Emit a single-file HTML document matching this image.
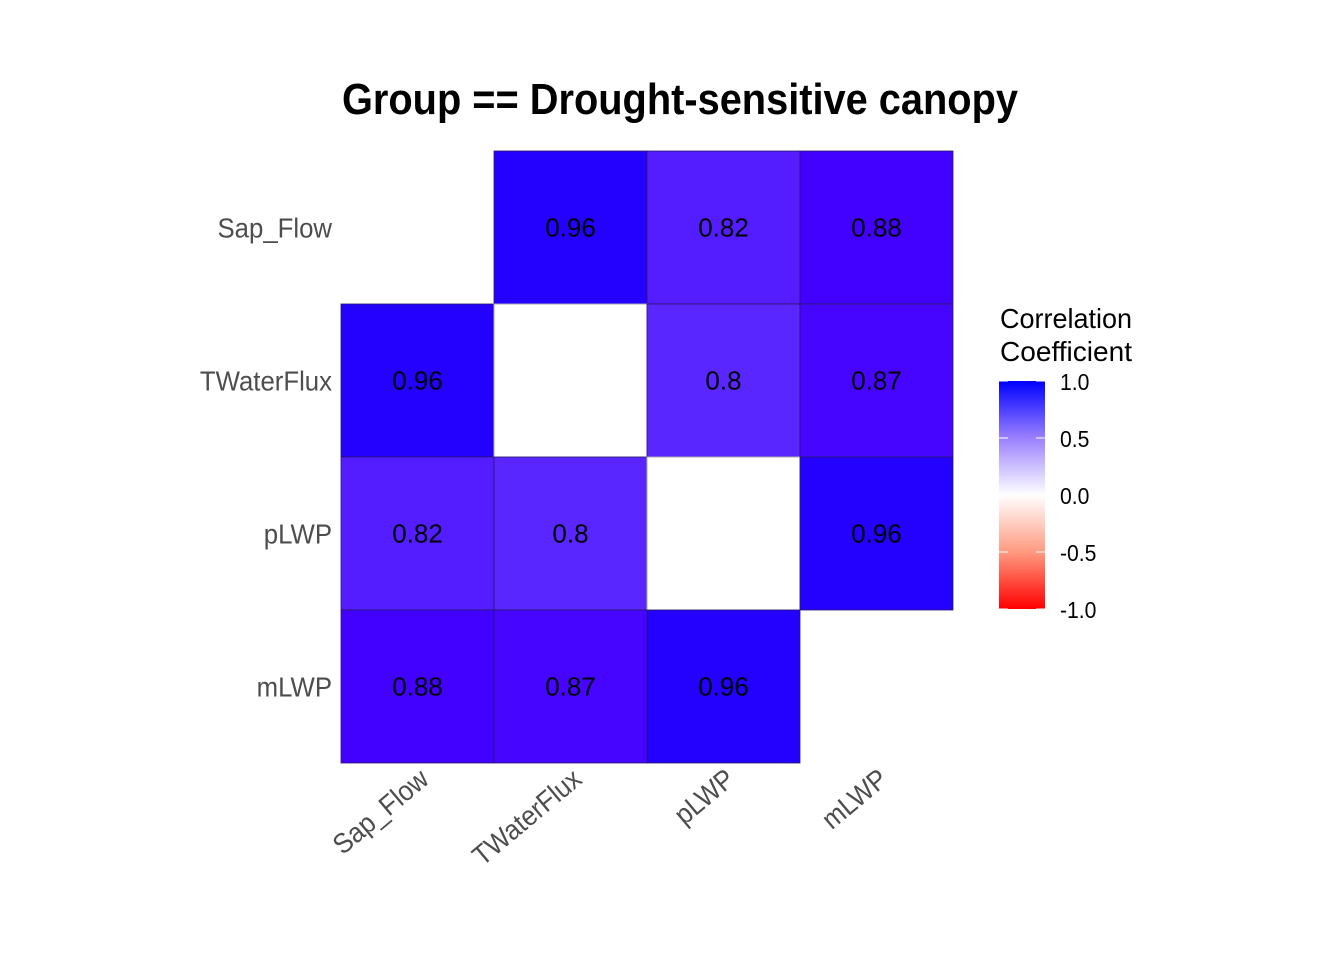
<!DOCTYPE html>
<html><head><meta charset="utf-8"><style>body{margin:0;background:#fff}svg{display:block}</style></head>
<body>
<svg id="chart" width="1344" height="960" xmlns="http://www.w3.org/2000/svg" font-family="'Liberation Sans Narrow','Liberation Sans',sans-serif">
<defs><linearGradient id="lg" x1="0" y1="1" x2="0" y2="0">
<stop offset="0" stop-color="#ff0000"/><stop offset="0.25" stop-color="#ff9a80"/><stop offset="0.5" stop-color="#ffffff"/><stop offset="0.75" stop-color="#9a80ff"/><stop offset="1" stop-color="#0000ff"/></linearGradient></defs>
<text x="680" y="114" text-anchor="middle" font-size="44" font-weight="bold" textLength="676" lengthAdjust="spacingAndGlyphs">Group == Drought-sensitive canopy</text>
<g id="cells"></g>
<g id="legend">
<text x="1000" y="328" font-size="28" textLength="132" lengthAdjust="spacingAndGlyphs">Correlation</text>
<text x="1000" y="361" font-size="28" textLength="132" lengthAdjust="spacingAndGlyphs">Coefficient</text>
<rect x="999" y="381" width="46" height="228" fill="url(#lg)"/>
<g id="lticks"></g>
</g>
</svg>
<script>
const vars = ["Sap_Flow","TWaterFlux","pLWP","mLWP"];
const corr = [
 [1,0.96,0.82,0.88],
 [0.96,1,0.8,0.87],
 [0.82,0.8,1,0.96],
 [0.88,0.87,0.96,1]
];
const legendTicks = [1.0,0.5,0.0,-0.5,-1.0];
const legendLabels = ["1.0","0.5","0.0","-0.5","-1.0"];

const NS="http://www.w3.org/2000/svg";
const x0=341, y0=151, cw=153;
const xPos=i=>x0+i*cw, yPos=j=>y0+j*cw;
function lerp(a,b,t){return a.map((v,i)=>Math.round(v+(b[i]-v)*t));}
const anchors=[[-1,[255,0,0]],[-0.5,[255,154,128]],[0,[255,255,255]],[0.5,[154,128,255]],[0.8,[90,38,255]],[0.88,[66,0,255]],[0.96,[36,0,255]],[1,[0,0,255]]];
function color(v){for(let k=0;k<anchors.length-1;k++){const[a,ca]=anchors[k],[b,cb]=anchors[k+1];if(v>=a&&v<=b){const c=lerp(ca,cb,(v-a)/(b-a));return `rgb(${c})`;}}return "#00f";}
function el(tag,attrs,parent){const e=document.createElementNS(NS,tag);for(const k in attrs)e.setAttribute(k,attrs[k]);parent.appendChild(e);return e;}
const g=document.getElementById('cells');
for(let r=0;r<vars.length;r++){for(let c=0;c<vars.length;c++){
  if(r===c){
    if(r===0||r===vars.length-1) continue;
    const d=el('rect',{x:xPos(c),y:yPos(r),width:cw,height:cw,fill:'#fff',stroke:'#aaa','stroke-width':1},g);
    
    
    continue;}
  const v=corr[r][c];
  const rc=el('rect',{x:xPos(c),y:yPos(r),width:cw,height:cw,fill:color(v),stroke:'#2a1a66','stroke-width':0.8},g);
  
  
  const t=el('text',{x:xPos(c)+cw/2,y:yPos(r)+cw/2+9,'text-anchor':'middle','font-size':26,'font-family':"'Liberation Sans',sans-serif",fill:'#000'},g);
  t.textContent=String(v);
  
  
}}
for(let i=0;i<vars.length;i++){
  const yy=yPos(i)+cw/2+10;
  const t=el('text',{x:0,y:0,'text-anchor':'end','font-size':28,fill:'#4d4d4d',transform:`translate(332 ${yy}) scale(0.92 1)`},g);
  t.textContent=vars[i];
  
  
  const cx=xPos(i)+cw/2+13, cy=782;
  const tx=el('text',{x:0,y:0,'text-anchor':'end','font-size':28,fill:'#4d4d4d',transform:`translate(${cx} ${cy}) rotate(-40) scale(0.92 1)`},g);
  tx.textContent=vars[i];
  
  
}
const lt=document.getElementById('lticks');
const ly=v=>381+(1-v)/2*228;
legendTicks.forEach((v,i)=>{
  const y=ly(v);
  el('line',{x1:999,x2:1008,y1:y,y2:y,stroke:'#fff','stroke-width':1},lt);
  el('line',{x1:1036,x2:1045,y1:y,y2:y,stroke:'#fff','stroke-width':1},lt);
  const t=el('text',{x:0,y:0,'font-size':23,fill:'#000',transform:`translate(1060 ${y+9}) scale(0.92 1)`},lt);
  t.textContent=legendLabels[i];
  
  
});
</script>
</body></html>
